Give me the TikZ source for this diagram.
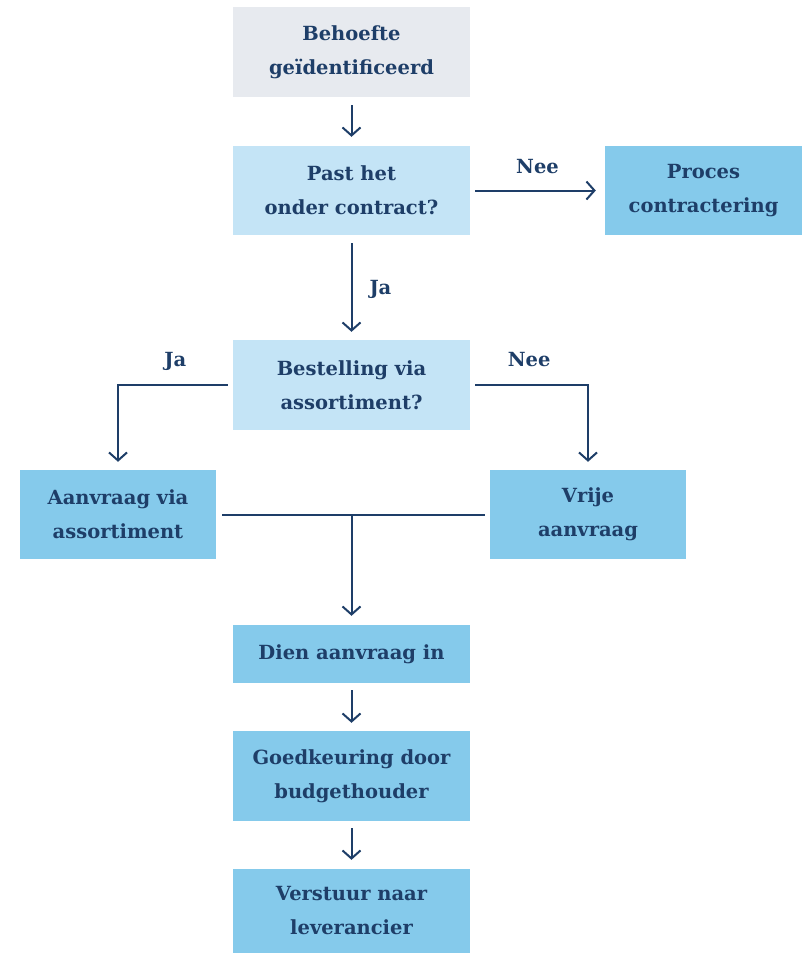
\documentclass[tikz,border=0pt]{standalone}
\usepackage{fontspec}
\setmainfont{DejaVu Serif}
\usetikzlibrary{arrows.meta}
\definecolor{navy}{HTML}{1E3E68}
\definecolor{greybox}{HTML}{E7EAEF}
\definecolor{lightbox}{HTML}{C4E4F6}
\definecolor{midbox}{HTML}{85CAEB}
\tikzset{
  box/.style={rectangle, inner sep=0pt, align=center, text=navy,
    font=\fontsize{19.5}{34}\selectfont\bfseries},
  greyb/.style={box, fill=greybox},
  lightb/.style={box, fill=lightbox},
  midb/.style={box, fill=midbox},
  conn/.style={draw=navy, line width=2pt, -{Straight Barb[length=8pt,width=18pt,line width=2pt]}},
  plain/.style={draw=navy, line width=2pt},
  lbl/.style={text=navy, font=\fontsize{19.5}{22}\selectfont\bfseries, inner sep=0pt, text depth=0pt}
}
\begin{document}
\begin{tikzpicture}[x=1pt,y=-1pt]
\useasboundingbox (0,0) rectangle (802,953);
\node[greyb, minimum width=237pt, minimum height=90pt] (beh) at (351.5,52) {Behoefte\\geïdentificeerd};
\node[lightb, minimum width=237pt, minimum height=89pt] (past) at (351.5,190.5) {Past het\\onder contract?};
\node[midb, minimum width=197pt, minimum height=89pt] (proc) at (703.5,190.5) {Proces\\contractering};
\node[lightb, minimum width=237pt, minimum height=90pt] (best) at (351.5,385) {Bestelling via\\assortiment?};
\node[midb, minimum width=196pt, minimum height=89pt] (aanv) at (118,514.5) {Aanvraag via\\assortiment};
\node[midb, minimum width=196pt, minimum height=89pt] (vrij) at (588,514.5) {Vrije\\aanvraag};
\node[midb, minimum width=237pt, minimum height=58pt] (dien) at (351.5,654) {Dien aanvraag in};
\node[midb, minimum width=237pt, minimum height=90pt] (goed) at (351.5,776) {Goedkeuring door\\budgethouder};
\node[midb, minimum width=237pt, minimum height=84pt] (vers) at (351.5,911) {Verstuur naar\\leverancier};

\draw[conn, shorten <=8pt, shorten >=9pt] (beh) -- (past);
\draw[conn, shorten <=5pt, shorten >=9pt] (past) -- node[lbl, above=16pt] (nee1) {Nee} (proc);
\draw[conn, shorten <=8pt, shorten >=8pt] (past) -- node[lbl, right=17pt] (ja1) {Ja} (best);
\draw[conn, shorten <=5pt, shorten >=8pt] (best.west) -| node[lbl, pos=0.25, above=18pt] (ja2) {Ja} (aanv.north);
\draw[conn, shorten <=5pt, shorten >=8pt] (best.east) -| node[lbl, pos=0.25, above=18pt] (nee2) {Nee} (vrij.north);
\draw[plain, shorten <=6pt, shorten >=5pt] (aanv.east) -- (vrij.west);
\coordinate (merge) at (aanv.east -| dien.north);
\draw[conn, shorten >=9pt] (merge) -- (dien.north);
\draw[conn, shorten <=7pt, shorten >=8pt] (dien) -- (goed);
\draw[conn, shorten <=7pt, shorten >=9pt] (goed) -- (vers);
\end{tikzpicture}
\end{document}
